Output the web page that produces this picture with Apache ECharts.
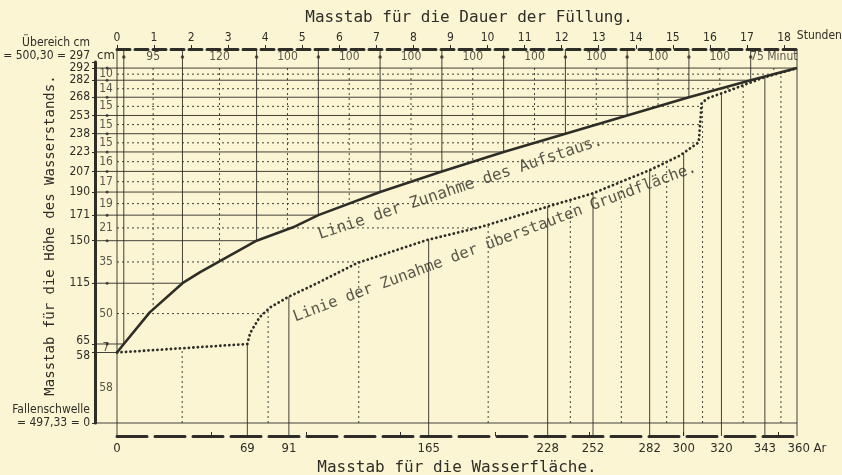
<!DOCTYPE html>
<html><head><meta charset="utf-8">
<script src="https://cdn.jsdelivr.net/npm/echarts@6/dist/echarts.min.js"></script>
<style>html,body{margin:0;padding:0;background:#fbf5d3;}#c{width:842px;height:475px;}</style>
</head><body><div id="c"></div>
<script>
// ---------------- data ----------------
const heightTicks = [0, 58, 65, 115, 150, 171, 190, 207, 223, 238, 253, 268, 282, 292, 297];
const rowBounds = [0, 58, 65, 115, 150, 171, 190, 207, 223, 238, 253, 268, 282, 292];
const rowIncrementLabels = ['58', '7', '50', '35', '21', '19', '17', '16', '15', '15', '15', '14', '10'];

const hourLabels = [0, 1, 2, 3, 4, 5, 6, 7, 8, 9, 10, 11, 12, 13, 14, 15, 16, 17, 18];
const fillStartMinute = 11;           // level 65 reached
const startLevel = 65;
const segmentMinutes = [95, 120, 100, 100, 100, 100, 100, 100, 100, 100, 75];
const segmentLabels = ['95', '120', '100', '100', '100', '100', '100', '100', '100', '100', '75 Minut'];
const segmentEndLevels = [115, 150, 171, 190, 207, 223, 238, 253, 268, 282, 292];

// Linie der Zunahme des Aufstaus (time in minutes -> height cm)
const riseMinutes = [0, 11, 53, 106, 134, 226, 285, 326, 426, 526, 626, 726, 826, 926, 1026, 1101];
const riseHeights = [58, 65, 91, 115, 124, 150, 161, 171, 190, 207, 223, 238, 253, 268, 282, 292];

// Linie der Zunahme der überstauten Grundfläche (area Ar -> height cm)
const areaCurveAr = [0, 69, 70.5, 75.5, 81, 91, 106, 127, 164, 192, 228, 252, 282, 298, 308, 309.5, 312.5, 325, 342, 360];
const areaCurveHeights = [58, 65, 74, 87, 95, 104, 115, 131.5, 150.5, 161, 178, 189, 208, 220, 231, 263, 267, 274, 284, 292];

const areaTicks = [0, 69, 91, 165, 228, 252, 282, 300, 320, 343, 360];
const areaScaleMarks = [50, 100, 150, 200, 250, 300, 350];

// ---------------- layout / style ----------------
const INK = '#2f2d27';
const FONT_MONO = '"DejaVu Sans Mono", monospace';
const FONT_NUM = '"Liberation Sans Narrow", "DejaVu Sans Condensed", "Liberation Sans", sans-serif';
const GRID_TOP = 62, GRID_BOTTOM = 52, AXIS_OFFSET = 13;
const H_MAX = 297, AREA_MAX = 360;
const cmPerPx = H_MAX / (475 - GRID_TOP - GRID_BOTTOM);
const stripTopH = H_MAX + AXIS_OFFSET * cmPerPx;
const stripMidH = H_MAX + 5 * cmPerPx;
const bottomExtH = -AXIS_OFFSET * cmPerPx;

// ---------------- derived ----------------
const bT = [fillStartMinute];
segmentMinutes.forEach(m => bT.push(bT[bT.length - 1] + m));
const bH = [startLevel].concat(segmentEndLevels);
const timeEnd = bT[bT.length - 1];

function interp(xs, ys, x) {
  for (let i = 0; i < xs.length - 1; i++) {
    if (x >= xs[i] && x <= xs[i + 1]) {
      const f = xs[i + 1] === xs[i] ? 0 : (x - xs[i]) / (xs[i + 1] - xs[i]);
      return ys[i] + f * (ys[i + 1] - ys[i]);
    }
  }
  return ys[ys.length - 1];
}

const timeSolid = [], timeDotted = [], areaSolid = [], areaDotted = [], colSolid = [];
for (let i = 0; i < bT.length; i++) {
  timeSolid.push([0, bH[i], bT[i], bH[i]]);                       // level line to curve
  if (i < bT.length - 1) {
    timeSolid.push([bT[i], stripTopH, bT[i], bH[i]]);             // boundary vertical
    const mid = (bT[i] + bT[i + 1]) / 2;
    timeDotted.push([mid, bH[bH.length - 1], mid, interp(riseMinutes, riseHeights, mid)]);
  }
}
areaSolid.push([0, bottomExtH, 0, stripTopH]);
areaSolid.push([AREA_MAX, bottomExtH, AREA_MAX, stripTopH]);
areaSolid.push([0, 0, AREA_MAX, 0]);
for (let i = 0; i < areaTicks.length; i++) {
  const a = areaTicks[i];
  if (a > 0 && a < AREA_MAX) areaSolid.push([a, bottomExtH, a, interp(areaCurveAr, areaCurveHeights, a)]);
  if (i < areaTicks.length - 1) {
    const m = (a + areaTicks[i + 1]) / 2;
    areaDotted.push([m, 0, m, interp(areaCurveAr, areaCurveHeights, m)]);
  }
}
for (let i = 2; i < rowBounds.length - 1; i++) {
  const hm = (rowBounds[i] + rowBounds[i + 1]) / 2;
  areaDotted.push([0, hm, interp(areaCurveHeights, areaCurveAr, hm), hm]);
}
rowBounds.forEach(h => colSolid.push([0, h, 1, h]));

const colLabels = rowIncrementLabels.map((t, i) => ({value: [0.5, (rowBounds[i] + rowBounds[i + 1]) / 2], name: t}));
const colDots = rowBounds.slice(2).map(h => [0.55, h]);
const stripLabels = segmentLabels.map((t, i) => ({value: [(bT[i] + bT[i + 1]) / 2, stripMidH], name: t}));
const stripDots = bT.slice(0, bT.length - 1).map(t => [t, stripMidH]);

function segRender(color, width, dash) {
  return function (params, api) {
    const p1 = api.coord([api.value(0), api.value(1)]);
    const p2 = api.coord([api.value(2), api.value(3)]);
    return {type: 'line', shape: {x1: p1[0], y1: p1[1], x2: p2[0], y2: p2[1]},
      style: {stroke: color, lineWidth: width, lineDash: dash || null}};
  };
}
function segSeries(data, xi, yi, width, dash) {
  return {type: 'custom', xAxisIndex: xi, yAxisIndex: yi, clip: false, silent: true,
    encode: {x: [0, 2], y: [1, 3]}, data: data, renderItem: segRender(INK, width, dash), z: 2};
}

const numStyle = {fontFamily: FONT_NUM, fontSize: 12, color: INK};

const option = {
  backgroundColor: '#fbf5d3',
  animation: false,
  title: {text: 'Masstab für die Dauer der Füllung.', left: 464, top: 5, textAlign: 'center',
    textStyle: {fontFamily: FONT_MONO, fontSize: 16, fontWeight: 'normal', color: INK}},
  grid: [
    {left: 117, right: 45, top: GRID_TOP, bottom: GRID_BOTTOM, outerBoundsMode: 'none', containLabel: false},
    {left: 95, width: 22, top: GRID_TOP, bottom: GRID_BOTTOM, outerBoundsMode: 'none', containLabel: false}
  ],
  xAxis: [
    {gridIndex: 0, type: 'value', min: 0, max: AREA_MAX, position: 'bottom', offset: AXIS_OFFSET,
      axisLine: {show: true, onZero: false, lineStyle: {color: INK, width: 3, type: [30, 8]}},
      axisTick: {show: true, inside: true, length: 4, customValues: areaScaleMarks, lineStyle: {color: INK, width: 1}},
      axisLabel: Object.assign({customValues: areaTicks, margin: 6,
        formatter: v => v === AREA_MAX ? '{r|' + v + ' Ar}' : String(v),
        rich: {r: {fontFamily: FONT_NUM, fontSize: 13, color: INK, padding: [0, 0, 0, 20]}}}, numStyle, {fontSize: 13}),
      splitLine: {show: false},
      name: 'Masstab für die Wasserfläche.', nameLocation: 'middle', nameGap: 22,
      nameTextStyle: {fontFamily: FONT_MONO, fontSize: 16, color: INK}},
    {gridIndex: 0, type: 'value', min: 0, max: timeEnd, position: 'top', offset: AXIS_OFFSET,
      axisLine: {show: true, onZero: false, lineStyle: {color: INK, width: 3, type: [13, 5]}},
      axisTick: {show: true, inside: false, length: 4, customValues: hourLabels.map(h => h * 60), lineStyle: {color: INK, width: 1}},
      axisLabel: Object.assign({customValues: hourLabels.map(h => h * 60), margin: 5,
        formatter: v => String(Math.round(v / 60))}, numStyle),
      splitLine: {show: false},
      name: 'Stunden', nameLocation: 'end', nameGap: -8,
      nameTextStyle: {fontFamily: FONT_NUM, fontSize: 12, color: INK, verticalAlign: 'bottom', padding: [0, 0, 7, 0]}},
    {gridIndex: 1, type: 'value', min: 0, max: 1, position: 'top',
      axisLine: {show: false}, axisTick: {show: false}, axisLabel: {show: false}, splitLine: {show: false},
      name: 'cm', nameLocation: 'middle', nameGap: 0,
      nameTextStyle: {fontFamily: FONT_NUM, fontSize: 13, color: INK}}
  ],
  yAxis: [
    {gridIndex: 0, type: 'value', min: 0, max: H_MAX, show: false},
    {gridIndex: 1, type: 'value', min: 0, max: H_MAX, position: 'left',
      axisLine: {show: true, onZero: false, lineStyle: {color: INK, width: 3}},
      axisTick: {show: true, length: 3, customValues: heightTicks, lineStyle: {color: INK}},
      axisLabel: Object.assign({customValues: heightTicks.filter(v => v !== 0 && v !== H_MAX), margin: 5,
        formatter: v => v === 65 ? '{u|65}' : (v === 58 ? '{d|58}' : String(v)),
        rich: {u: {fontFamily: FONT_NUM, fontSize: 12, color: INK, padding: [0, 0, 6, 0]},
               d: {fontFamily: FONT_NUM, fontSize: 12, color: INK, padding: [6, 0, 0, 0]}}}, numStyle),
      splitLine: {show: false},
      name: 'Masstab für die Höhe des Wasserstands.', nameLocation: 'middle', nameGap: 38,
      nameTextStyle: {fontFamily: FONT_MONO, fontSize: 14, color: INK, padding: [0, 0, 0, 14]}},
    {gridIndex: 1, type: 'value', min: 0, max: H_MAX, position: 'left',
      axisLine: {show: false}, axisTick: {show: false}, splitLine: {show: false},
      axisLabel: Object.assign({customValues: [0, H_MAX], margin: 5, lineHeight: 13,
        formatter: v => v === H_MAX ? 'Übereich cm\n= 500,30 = 297\n\n' : 'Fallenschwelle\n= 497,33 = 0\n'}, numStyle)}
  ],
  series: [
    segSeries(timeSolid, 1, 0, 0.9),
    segSeries(timeDotted, 1, 0, 0.9, [2, 3]),
    segSeries(areaSolid, 0, 0, 0.9),
    segSeries(areaDotted, 0, 0, 0.9, [2, 3]),
    segSeries(colSolid, 2, 1, 0.9),
    {type: 'line', name: 'Linie der Zunahme des Aufstaus.', xAxisIndex: 1, yAxisIndex: 0, clip: false,
      data: riseMinutes.map((t, i) => [t, riseHeights[i]]), symbol: 'none', smooth: false, z: 5,
      lineStyle: {color: INK, width: 2.6}},
    {type: 'line', name: 'Linie der Zunahme der überstauten Grundfläche.', xAxisIndex: 0, yAxisIndex: 0, clip: false,
      data: areaCurveAr.map((a, i) => [a, areaCurveHeights[i]]), symbol: 'none', smooth: false, z: 5,
      lineStyle: {color: INK, width: 2.8, type: [0.1, 4.4], cap: 'round'}},
    {type: 'scatter', xAxisIndex: 1, yAxisIndex: 0, clip: false, symbolSize: 0, data: stripLabels, z: 6,
      label: Object.assign({show: true, position: 'inside', formatter: p => p.name}, numStyle)},
    {type: 'scatter', xAxisIndex: 1, yAxisIndex: 0, clip: false, symbolSize: 3.5, data: stripDots, z: 6,
      itemStyle: {color: INK}},
    {type: 'scatter', xAxisIndex: 2, yAxisIndex: 1, clip: false, symbolSize: 0, data: colLabels, z: 6,
      label: Object.assign({show: true, position: 'inside', formatter: p => p.name}, numStyle)},
    {type: 'scatter', xAxisIndex: 2, yAxisIndex: 1, clip: false, symbolSize: 3, data: colDots, z: 6,
      itemStyle: {color: INK}},
    {type: 'scatter', xAxisIndex: 1, yAxisIndex: 0, clip: false, symbolSize: 0, data: [[556, 193.5]], z: 6,
      label: {show: true, position: 'inside', formatter: 'Linie der Zunahme des Aufstaus.', rotate: 18.5,
        fontFamily: FONT_MONO, fontSize: 16, color: INK}},
    {type: 'scatter', xAxisIndex: 0, yAxisIndex: 0, clip: false, symbolSize: 0, data: [[200, 148.5]], z: 6,
      label: {show: true, position: 'inside', formatter: 'Linie der Zunahme der überstauten Grundfläche.', rotate: 20.5,
        fontFamily: FONT_MONO, fontSize: 15.5, color: INK}}
  ]
};
const chart = echarts.init(document.getElementById('c'));
chart.setOption(option);
</script></body></html>
